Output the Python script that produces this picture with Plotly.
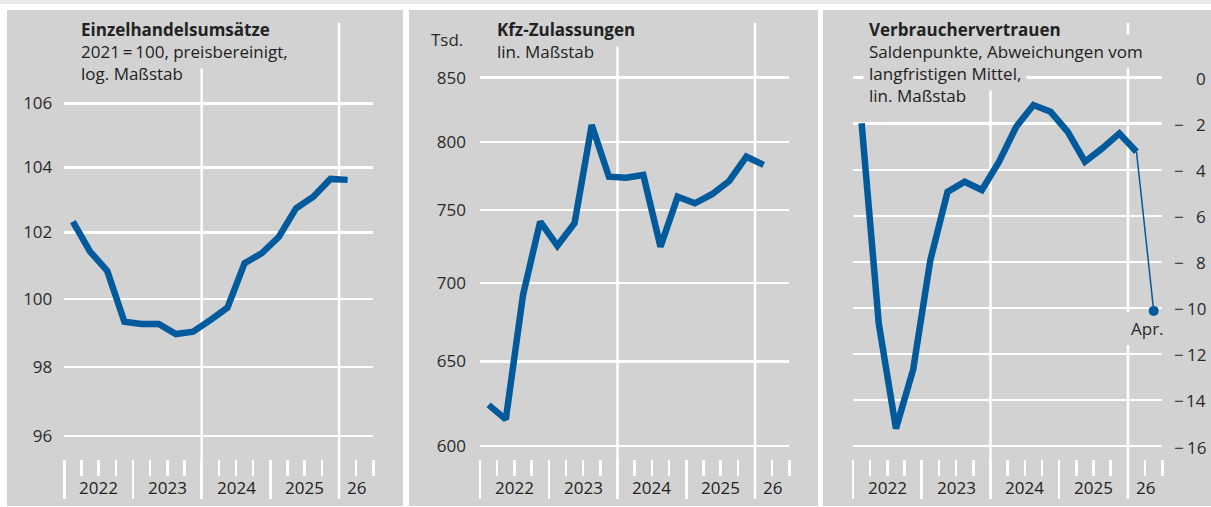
import plotly.graph_objects as go
import math

# ---------------- data ----------------
quarters = ["2022Q1", "2022Q2", "2022Q3", "2022Q4",
            "2023Q1", "2023Q2", "2023Q3", "2023Q4",
            "2024Q1", "2024Q2", "2024Q3", "2024Q4",
            "2025Q1", "2025Q2", "2025Q3", "2025Q4",
            "2026Q1"]
retail_sales = [102.33, 101.42, 100.84, 99.32, 99.26, 99.26, 98.96, 99.03,
                99.37, 99.74, 101.07, 101.37, 101.87, 102.74, 103.09, 103.64, 103.61]
car_registrations = [623.8, 615.3, 692.0, 741.8, 725.1, 740.7, 812.8, 774.0,
                     773.3, 775.3, 724.5, 759.5, 754.8, 761.3, 770.9, 788.8, 782.7]
consumer_confidence = [-1.98, -10.68, -15.24, -12.68, -7.93, -4.96, -4.52, -4.88,
                       -3.65, -2.13, -1.19, -1.48, -2.35, -3.65, -3.07, -2.42, -3.22]
april_period = "2026Q2"
april_label = "Apr."
april_value = -10.13

year_labels = ["2022", "2023", "2024", "2025", "26"]
retail_ticks = [96, 98, 100, 102, 104, 106]
car_ticks = [600, 650, 700, 750, 800, 850]
conf_ticks = [0, -2, -4, -6, -8, -10, -12, -14, -16]

# ---------------- style ----------------
W, H = 1211, 507
PANEL = "#d2d2d2"
TOPBAND = "#ebebeb"
BLUE = "#005a9b"
TXT = "#222222"
TICKTXT = "#2a2a2a"
FONT = "Open Sans"
FS = 17
PAD = 5


def qx(q):
    """quarter label -> numeric position on the quarter axis (centre of quarter)"""
    y, k = q.split("Q")
    return (int(y) - 2022) * 4 + (int(k) - 1) + 0.5


def py(p):
    return 1 - p / H


def px(p):
    return p / W


xs = [qx(q) for q in quarters]

PLOT_TOP, PLOT_BOT = 23, 459


def lin_range(v1, p1, v2, p2):
    s = (v2 - v1) / (p2 - p1)
    return [v1 + (PLOT_BOT - p1) * s, v1 + (PLOT_TOP - p1) * s]


def log_range(v1, p1, v2, p2):
    return lin_range(math.log10(v1), p1, math.log10(v2), p2)


x_domains = [(64.3, 373.4), (480.0, 789.4), (853.0, 1162.3)]
y_ranges = [log_range(106, 103.3, 96, 436.0),
            log_range(850, 77.7, 600, 446.0),
            lin_range(0, 77.7, -16, 446.0)]

fig = go.Figure()

fig.add_trace(go.Scatter(x=xs, y=retail_sales, mode="lines", xaxis="x", yaxis="y",
                         line=dict(color=BLUE, width=6.5), hoverinfo="skip"))
fig.add_trace(go.Scatter(x=xs, y=car_registrations, mode="lines", xaxis="x2", yaxis="y2",
                         line=dict(color=BLUE, width=6.5), hoverinfo="skip"))
fig.add_trace(go.Scatter(x=xs, y=consumer_confidence, mode="lines", xaxis="x3", yaxis="y3",
                         line=dict(color=BLUE, width=6.5), hoverinfo="skip"))
fig.add_trace(go.Scatter(x=[xs[-1], qx(april_period)], y=[consumer_confidence[-1], april_value],
                         mode="lines", xaxis="x3", yaxis="y3",
                         line=dict(color=BLUE, width=1.5), hoverinfo="skip"))
fig.add_trace(go.Scatter(x=[qx(april_period)], y=[april_value], mode="markers",
                         xaxis="x3", yaxis="y3",
                         marker=dict(color=BLUE, size=10), hoverinfo="skip"))

minor_vals = [1, 2, 3, 5, 6, 7, 9, 10, 11, 13, 14, 15, 17, 18]
layout = dict(
    width=W, height=H,
    margin=dict(l=0, r=0, t=0, b=0, autoexpand=False),
    paper_bgcolor="white", plot_bgcolor="rgba(0,0,0,0)",
    showlegend=False,
    font=dict(family=FONT, size=FS, color=TXT),
    template="none",
)

for i in range(3):
    sx = "" if i == 0 else str(i + 1)
    d0, d1 = x_domains[i]
    layout["xaxis" + sx] = dict(
        domain=[px(d0), px(d1)], range=[-0.0005, 18.0005], anchor="y" + sx,
        showgrid=False, zeroline=False, showline=False, showticklabels=False,
        ticks="outside", tickmode="array", tickvals=[0, 4, 8, 12, 16],
        ticklen=39, tickwidth=2.5, tickcolor="white", automargin=False,
        minor=dict(ticks="outside", tickmode="array", tickvals=minor_vals,
                   ticklen=16, tickwidth=2.5, tickcolor="white"),
    )
    ya = dict(domain=[py(PLOT_BOT), py(PLOT_TOP)], range=y_ranges[i], anchor="x" + sx,
              showgrid=True, gridcolor="white", gridwidth=2.5, zeroline=False,
              showline=False, ticks="", automargin=False,
              tickfont=dict(family=FONT, size=FS, color=TICKTXT))
    if i == 0:
        ya.update(type="log", tickmode="array", tickvals=retail_ticks,
                  ticktext=[str(v) for v in retail_ticks], ticklabelstandoff=11)
    elif i == 1:
        ya.update(type="log", tickmode="array", tickvals=car_ticks,
                  ticktext=[str(v) for v in car_ticks], ticklabelstandoff=13)
    else:
        ya.update(tickmode="array", tickvals=conf_ticks, showticklabels=False)
    layout["yaxis" + sx] = ya

shapes = []
# top band and panel backgrounds
shapes.append(dict(type="rect", xref="paper", yref="paper", x0=0, x1=1, y0=py(4), y1=1,
                   fillcolor=TOPBAND, line=dict(width=0), layer="below"))
for a, b in [(7, 403), (409, 818), (823, 1211)]:
    shapes.append(dict(type="rect", xref="paper", yref="paper", x0=px(a), x1=px(b),
                       y0=py(506), y1=py(10), fillcolor=PANEL, line=dict(width=0), layer="below"))
# vertical year lines (2024, 2026)
for i in range(3):
    sx = "" if i == 0 else str(i + 1)
    for xv in (8, 16):
        segs = [(23, 498)]
        if i == 2 and xv == 16:
            segs = [(23, 312), (345, 498)]
        for t, bt in segs:
            shapes.append(dict(type="line", xref="x" + sx, yref="paper", x0=xv, x1=xv,
                               y0=py(bt), y1=py(t), line=dict(color="white", width=2.5),
                               layer="below"))

knock_annotations = []
text_annotations = []


def txt(x, yc, text, bold=False, knock=True, color=TXT):
    t = ("<b>%s</b>" % text) if bold else text
    base = dict(xref="paper", yref="paper", x=px(x - PAD - 1), y=py(yc), xanchor="left",
                yanchor="middle", text=t, showarrow=False, borderpad=PAD)
    if knock:
        knock_annotations.append(dict(base, font=dict(family=FONT, size=FS, color=PANEL),
                                      bgcolor=PANEL))
    text_annotations.append(dict(base, font=dict(family=FONT, size=FS, color=color)))


# panel 1 titles
txt(81, 30, "Einzelhandelsumsätze", bold=True)
txt(81, 51.5, "2021\u2009=\u2009100, preisbereinigt,")
txt(81, 73.5, "log. Maßstab")
# panel 2
txt(497, 30, "Kfz-Zulassungen", bold=True)
txt(497, 51.5, "lin. Maßstab")
txt(431, 40, "Tsd.", knock=False, color=TICKTXT)
# panel 3
txt(869, 30, "Verbrauchervertrauen", bold=True)
txt(869, 51.5, "Saldenpunkte, Abweichungen vom")
txt(869, 73.5, "langfristigen Mittel,")
txt(869, 95.2, "lin. Maßstab")

annotations = knock_annotations + text_annotations

# April label
annotations.append(dict(xref="x3", yref="paper", x=qx(april_period) - 0.35, y=py(328),
                        xanchor="center", yanchor="middle", text=april_label, showarrow=False,
                        font=dict(family=FONT, size=FS, color=TICKTXT)))

# year labels under each panel
year_pos = [2, 6, 10, 14, 17]
for i in range(3):
    sx = "" if i == 0 else str(i + 1)
    for lab, xp in zip(year_labels, year_pos):
        annotations.append(dict(xref="x" + sx, yref="paper", x=xp, y=py(487),
                                xanchor="center", yanchor="middle", text=lab, showarrow=False,
                                font=dict(family=FONT, size=FS, color=TXT)))

# right-hand tick labels for panel 3 (minus sign set apart, digits right aligned)
for v in conf_ticks:
    annotations.append(dict(xref="paper", yref="y3", x=px(1208), y=v, xanchor="right",
                            yanchor="middle", yshift=-1, text=str(abs(v)), showarrow=False,
                            font=dict(family=FONT, size=FS, color=TICKTXT)))
    if v < 0:
        annotations.append(dict(xref="paper", yref="y3", x=px(1172), y=v, xanchor="left",
                                yanchor="middle", yshift=-1, text="\u2212", showarrow=False,
                                font=dict(family=FONT, size=FS, color=TICKTXT)))

layout["shapes"] = shapes
layout["annotations"] = annotations
fig.update_layout(**layout)

fig.write_html("out.html",
               config={"displayModeBar": False, "staticPlot": True},
               post_script="document.body.style.margin='0';document.body.style.padding='0';"
                           "document.body.style.overflow='hidden';")
